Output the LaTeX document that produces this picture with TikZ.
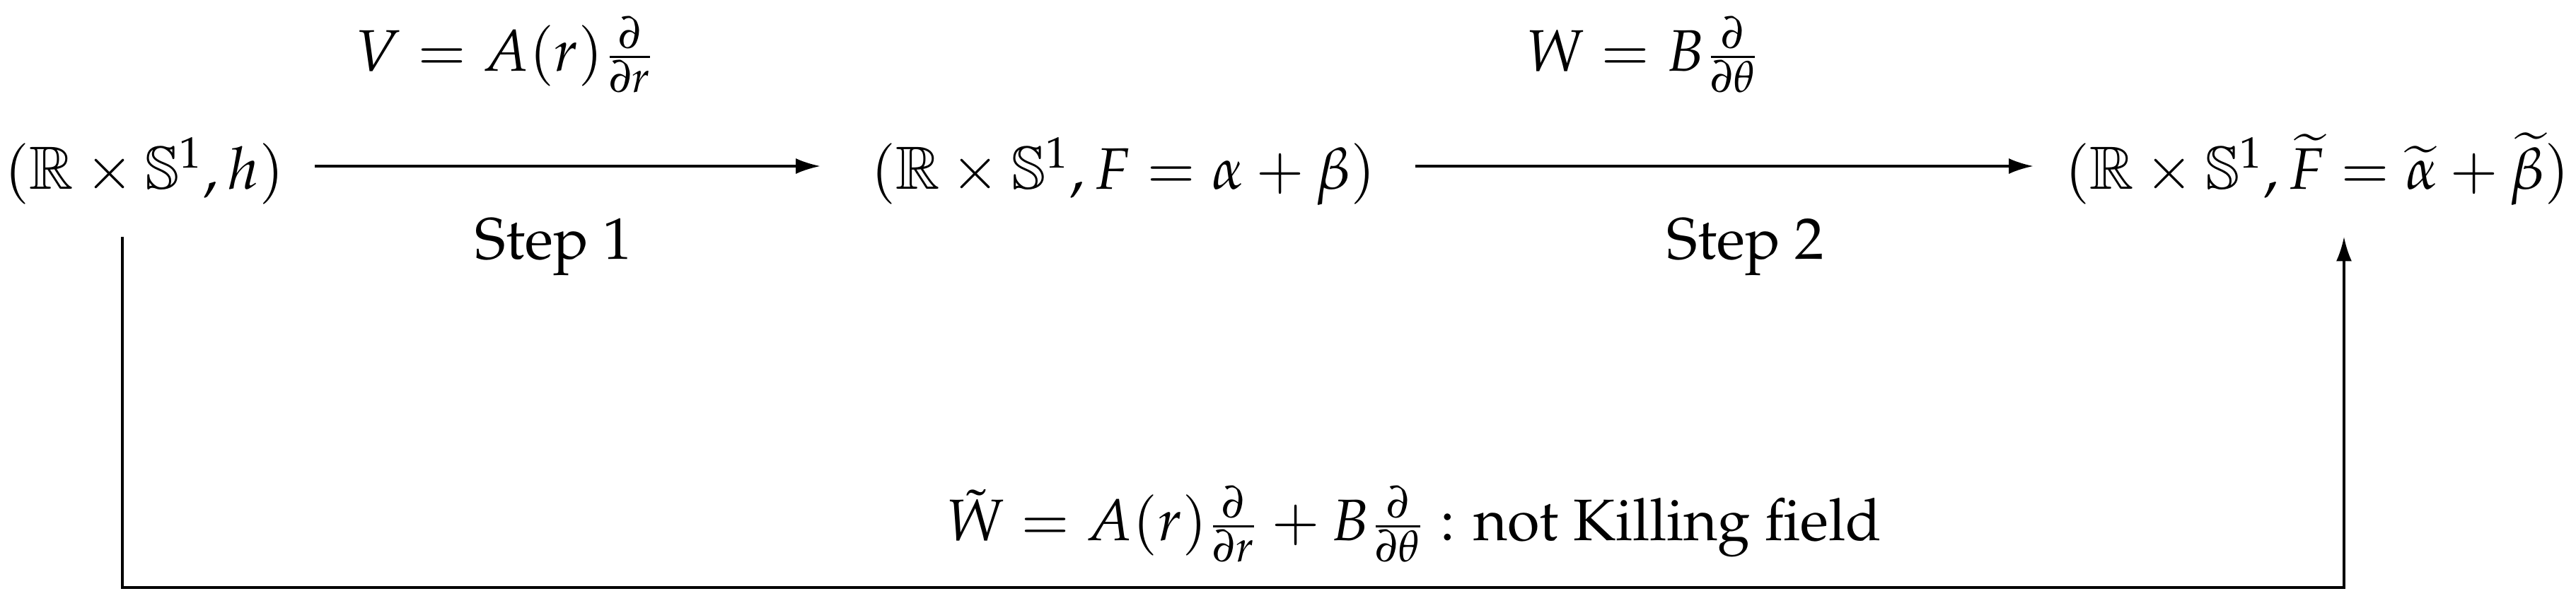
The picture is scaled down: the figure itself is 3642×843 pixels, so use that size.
\documentclass[tikz,border=0pt]{standalone}
\usepackage[T1]{fontenc}
\usepackage[noBBpl]{mathpazo}
\usepackage{amssymb}
\usetikzlibrary{arrows.meta}
\tikzset{
  lbl/.style={anchor=base, inner sep=0pt, font=\fontsize{12}{14.4}\selectfont},
  arr/.style={line width=0.45pt, -{Latex[length=5pt,width=3.2pt]}}
}
\begin{document}
\begin{tikzpicture}[x=0.1449pt, y=-0.1449pt]
\useasboundingbox (0,0) rectangle (3642,843);
\node[lbl] (L) at (204,268) {$(\mathbb{R}\times\mathbb{S}^1, h)$};
\node[lbl] (M) at (1588,268) {$(\mathbb{R}\times\mathbb{S}^1, F=\alpha+\beta)$};
\node[lbl] (R) at (3276,268) {$(\mathbb{R}\times\mathbb{S}^1, \widetilde{F}=\widetilde{\alpha}+\widetilde{\beta})$};
\node[lbl] (V) at (715,101) {$V = A(r)\frac{\partial}{\partial r}$};
\node[lbl] (S1) at (783,367) {Step 1};
\node[lbl] (Wl) at (2324,101) {$W = B\frac{\partial}{\partial\theta}$};
\node[lbl] (S2) at (2468,367) {Step 2};
\node[lbl] (B) at (1999,765) {$\tilde{W} = A(r)\frac{\partial}{\partial r}+B\frac{\partial}{\partial\theta}$ : not Killing field};
\draw[arr] ([shift={(42,-33)}]L.base east) -- ([shift={(-70,-33)}]M.base west);
\draw[arr] ([shift={(55,-33)}]M.base east) -- ([shift={(-43,-33)}]R.base west);
\coordinate (bl) at (173,831);
\draw[arr] ([shift={(-31,67)}]L.base) -- (bl) -| ([shift={(38,67)}]R.base);
\end{tikzpicture}
\end{document}
